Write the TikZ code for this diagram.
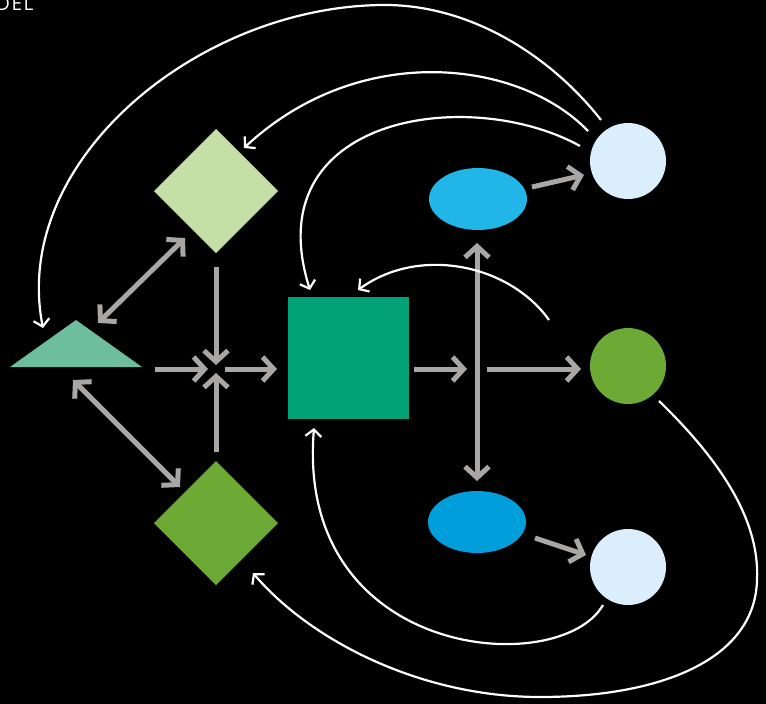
\documentclass[tikz,border=0pt]{standalone}
\usepackage{fontspec}
\setmainfont{Open Sans}
\usetikzlibrary{arrows.meta,shapes.geometric}
\definecolor{tricol}{HTML}{6DBE9D}
\definecolor{dlight}{HTML}{C6DFA6}
\definecolor{dgreen}{HTML}{6DAA35}
\definecolor{sqgreen}{HTML}{00A276}
\definecolor{eblue}{HTML}{21B5E8}
\definecolor{eblue2}{HTML}{009EDB}
\definecolor{cpale}{HTML}{DAEFFB}
\definecolor{agray}{HTML}{A8A7A5}
\begin{document}
\begin{tikzpicture}[x=1pt,y=-1pt,
  gtip/.tip={Straight Barb[length=11pt,width=24pt]},
  garrow/.style={draw=agray, line width=5pt, -gtip},
  gboth/.style={draw=agray, line width=5pt, gtip-gtip},
  wtip/.tip={Straight Barb[length=7pt,width=16pt]},
  warrow/.style={draw=white, line width=2.2pt, -wtip},
  shp/.style={inner sep=0pt, outer sep=0pt, draw=none}]
\fill[black] (0,0) rectangle (766,704);
\useasboundingbox (0,0) rectangle (766,704);

% clipped title
\begin{scope}
\clip (0,0) rectangle (766,704);
\node[anchor=base west, text=white, font=\fontsize{19}{22}\selectfont\addfontfeatures{LetterSpace=8}, inner sep=0pt] (title) at (-39,10) {MODEL};
\end{scope}

% shapes
\fill[tricol] (10,367) -- (76,320) -- (142,367) -- cycle;
\coordinate (tri) at (76,350);
\node[shp, diamond, fill=dlight, minimum width=124pt, minimum height=124pt] (d1) at (216,191) {};
\node[shp, diamond, fill=dgreen, minimum width=124pt, minimum height=124pt] (d2) at (216,523) {};
\node[shp, rectangle, fill=sqgreen, minimum width=121pt, minimum height=122pt] (sq) at (348.5,358) {};
\node[shp, ellipse, fill=eblue, minimum width=98pt, minimum height=62pt] (e1) at (478,199) {};
\node[shp, ellipse, fill=eblue2, minimum width=98pt, minimum height=62pt] (e2) at (477,522) {};
\node[shp, circle, fill=cpale, minimum size=76pt] (c1) at (628,161) {};
\node[shp, circle, fill=dgreen, minimum size=76pt] (c2) at (628,366) {};
\node[shp, circle, fill=cpale, minimum size=76pt] (c3) at (628,567) {};

% gray connector points
\coordinate (ta) at (98,323);   \coordinate (da) at (185,238);
\coordinate (tb) at (73,380);   \coordinate (db) at (180,487);
\coordinate (d1s) at (216,267); \coordinate (jt) at (216,365);
\coordinate (d2s) at (216,452); \coordinate (jb) at (216,373);
\coordinate (trs) at (155,369); \coordinate (jl) at (208,369);
\coordinate (jr) at (225,369);  \coordinate (sqw) at (277,369);
\coordinate (sqe) at (414,369); \coordinate (vx) at (467,369);
\coordinate (vt) at (477,243);  \coordinate (vb) at (477,481);
\coordinate (hs) at (487,369);  \coordinate (c2w) at (581,369);
\coordinate (e1e) at (532,187); \coordinate (c1w) at (584,175);
\coordinate (e2e) at (535,538); \coordinate (c3w) at (586,555);

\draw[gboth] (ta) -- (da);
\draw[gboth] (tb) -- (db);
\draw[garrow] (d1s) -- (jt);
\draw[garrow] (d2s) -- (jb);
\draw[garrow] (trs) -- (jl);
\draw[garrow] (jr) -- (sqw);
\draw[garrow] (sqe) -- (vx);
\draw[gboth] (vt) -- (vb);
\draw[garrow] (hs) -- (c2w);
\draw[garrow] (e1e) -- (c1w);
\draw[garrow] (e2e) -- (c3w);

% white curves
\coordinate (s1) at (601,120); \coordinate (t1) at (43,328);
\coordinate (s2) at (588,131); \coordinate (t2) at (244,148);
\coordinate (s3) at (580,146); \coordinate (t3) at (310,290);
\coordinate (s4) at (549,320); \coordinate (t4) at (358,290);
\coordinate (s5) at (603,605); \coordinate (t5) at (314,428);
\coordinate (s6) at (659,401); \coordinate (t6) at (253,573);

\draw[warrow] (s1) .. controls (550,55) and (470,5) .. (385,5)
   .. controls (200,5) and (10,160) .. (t1);
\draw[warrow] (s2) .. controls (520,60) and (360,40) .. (t2);
\draw[warrow] (s3) .. controls (470,85) and (255,115) .. (t3);
\draw[warrow] (s4) .. controls (510,265) and (420,245) .. (t4);
\draw[warrow] (s5) .. controls (560,680) and (295,660) .. (t5);
\draw[warrow] (s6) .. controls (720,460) and (760,520) .. (757,580)
   .. controls (755,660) and (660,697) .. (540,697)
   .. controls (420,697) and (310,640) .. (t6);
\end{tikzpicture}
\end{document}
